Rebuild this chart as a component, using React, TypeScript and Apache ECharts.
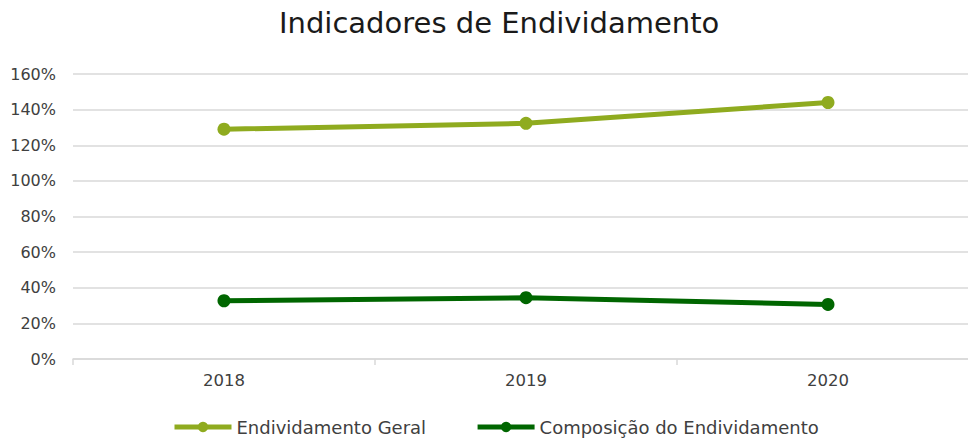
import React, { useEffect, useRef } from "react";
import * as echarts from "echarts";

const categories = ["2018", "2019", "2020"];
const endividamentoGeral = [129.0, 132.3, 144.0];
const composicaoEndividamento = [32.7, 34.4, 30.6];
const seriesNames = ["Endividamento Geral", "Composição do Endividamento"];
const titleText = "Indicadores de Endividamento";

export default function App() {
  const ref = useRef<HTMLDivElement>(null);
  useEffect(() => {
    if (!ref.current) return;
    const chart = echarts.init(ref.current, undefined, { renderer: "svg" });
    const font = "DejaVu Sans";
    chart.setOption({
      animation: false,
      backgroundColor: "#ffffff",
      title: {
        text: titleText,
        left: 274,
        top: 3,
        textStyle: { fontFamily: font, fontSize: 29, fontWeight: "normal", color: "#1a1a1a" },
      },
      grid: { left: 73, right: 11, top: 74, bottom: 82, containLabel: false },
      legend: {
        bottom: 0,
        left: 167,
        itemWidth: 57,
        itemHeight: 13,
        itemGap: 49,
        lineStyle: { width: 5 },
        textStyle: { fontFamily: font, fontSize: 18, color: "#404040" },
        data: seriesNames,
      },
      xAxis: {
        type: "category",
        data: categories,
        boundaryGap: true,
        axisLine: { lineStyle: { color: "#d9d9d9", width: 1.5 } },
        axisTick: { show: true, length: 6, lineStyle: { color: "#d9d9d9", width: 1.5 } },
        axisLabel: { fontFamily: font, fontSize: 16.5, color: "#404040", margin: 13 },
      },
      yAxis: {
        type: "value",
        min: 0,
        max: 160,
        interval: 20,
        axisLine: { show: false },
        axisTick: { show: false },
        splitLine: { lineStyle: { color: "#d9d9d9", width: 1.5 } },
        axisLabel: {
          fontFamily: font,
          fontSize: 16,
          color: "#404040",
          margin: 17,
          formatter: (v: number) => `${v}%`,
        },
      },
      series: [
        {
          name: seriesNames[0],
          type: "line",
          data: endividamentoGeral,
          symbol: "circle",
          symbolSize: 13,
          lineStyle: { width: 5, color: "#8fab1f" },
          itemStyle: { color: "#8fab1f" },
        },
        {
          name: seriesNames[1],
          type: "line",
          data: composicaoEndividamento,
          symbol: "circle",
          symbolSize: 13,
          lineStyle: { width: 5, color: "#006600" },
          itemStyle: { color: "#006600" },
        },
      ],
    });
    return () => chart.dispose();
  }, []);
  return (
    <div
      ref={ref}
      style={{ position: "fixed", left: 0, top: 0, width: 990, height: 441 }}
    />
  );
}
